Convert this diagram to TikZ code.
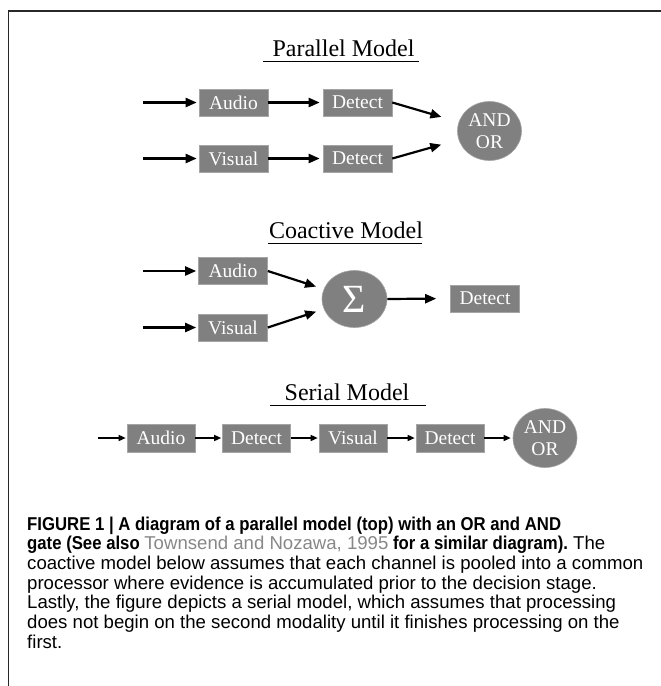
\documentclass[tikz,border=0pt]{standalone}
\usepackage{fontspec}
\setmainfont{Liberation Serif}
\newfontfamily\capreg[FakeStretch=1.0]{Liberation Sans}
\newfontfamily\capbold[FakeStretch=0.90]{Liberation Sans Bold}
\usetikzlibrary{shapes.geometric,arrows.meta}
\definecolor{boxgray}{RGB}{128,128,128}
\definecolor{boxedge}{RGB}{165,165,165}
\definecolor{linkgray}{RGB}{135,135,135}
\definecolor{framecol}{RGB}{40,40,40}
\tikzset{
  procbox/.style={rectangle, fill=boxgray, draw=boxedge, line width=0.6pt,
    minimum width=69pt, minimum height=27pt, inner sep=0pt, text=white,
    font=\fontsize{19.5}{20}\selectfont},
  sbox/.style={procbox, minimum width=68pt, minimum height=28pt},
  gate/.style={ellipse, fill=boxgray, draw=boxedge, line width=0.6pt,
    minimum width=64pt, minimum height=59pt, inner sep=0pt, text=white,
    align=center, font=\fontsize{19.5}{21.5}\selectfont},
  arr/.style={line width=2.2pt, -{Triangle[length=11pt,width=9pt]}},
  sarr/.style={line width=1.4pt, -{Triangle[length=7pt,width=6pt]}},
  ttl/.style={anchor=base, inner sep=0pt, font=\fontsize{24}{26}\selectfont},
  uline/.style={line width=1pt},
  capline/.style={anchor=base west, inner sep=0pt, font=\fontsize{18.6}{20}\selectfont},
}
\begin{document}
\begin{tikzpicture}[x=1pt,y=-1pt]
\useasboundingbox (0,0) rectangle (661,686);
% frame
\draw[framecol, line width=1.5pt] (8.5,686) -- (8.5,11) -- (661,11);

% ---------------- Parallel model
\node[ttl] (tp) at (343.5,56) {Parallel Model};
\coordinate (tpl) at (263,61);
\coordinate (tpr) at (419,61);
\draw[uline] (tpl) -- (tpr);

\coordinate (pin1) at (143,102.5);
\coordinate (pin2) at (143,158.5);
\node[procbox] (pa) at (233.5,102.5) {Audio};
\node[procbox] (pd1) at (357.5,102.5) {Detect};
\node[procbox] (pv) at (233.5,158.5) {Visual};
\node[procbox] (pd2) at (357.5,158.5) {Detect};
\node[gate] (pg) at (489.5,131) {AND\\OR};
\draw[arr, shorten >=2pt] (pin1) -- (pa.west);
\draw[arr, shorten >=2pt] (pin2) -- (pv.west);
\draw[arr, shorten >=3pt] (pa.east) -- (pd1.west);
\draw[arr, shorten >=3pt] (pv.east) -- (pd2.west);
\draw[arr, shorten >=18pt] (pd1.east) -- (pg);
\draw[arr, shorten >=18pt] (pd2.east) -- (pg);

% ---------------- Coactive model
\node[ttl] (tc) at (346,238.5) {Coactive Model};
\coordinate (tcl) at (268,243);
\coordinate (tcr) at (422,243);
\draw[uline] (tcl) -- (tcr);

\coordinate (cin1) at (143,271);
\coordinate (cin2) at (143,327.5);
\node[procbox] (ca) at (233,271) {Audio};
\node[procbox] (cv) at (233,327.5) {Visual};
\node[gate, minimum width=65pt, minimum height=57pt,
      font=\fontsize{40}{40}\selectfont] (cs) at (354.5,299) {Σ};
\node[procbox] (cd) at (485,298.5) {Detect};
\draw[arr, shorten >=2pt] (cin1) -- (ca.west);
\draw[arr, shorten >=2pt] (cin2) -- (cv.west);
\draw[arr, shorten >=8pt] (ca.east) -- (cs);
\draw[arr, shorten >=8pt] (cv.east) -- (cs);
\draw[arr, shorten >=14pt] (cs.east) -- (cd.west);

% ---------------- Serial model
\node[ttl] (ts) at (347,400.5) {Serial Model};
\coordinate (tsl) at (270,405);
\coordinate (tsr) at (426,405);
\draw[uline] (tsl) -- (tsr);

\coordinate (sin) at (98,438);
\node[sbox] (sa) at (161,438) {Audio};
\node[sbox] (sd1) at (256.5,438) {Detect};
\node[sbox] (sv) at (353,438) {Visual};
\node[sbox] (sd2) at (450,438) {Detect};
\node[gate] (sg) at (545,438) {AND\\OR};
\draw[sarr, shorten >=1pt] (sin) -- (sa.west);
\draw[sarr, shorten >=1pt] (sa.east) -- (sd1.west);
\draw[sarr, shorten >=1pt] (sd1.east) -- (sv.west);
\draw[sarr, shorten >=1pt] (sv.east) -- (sd2.west);
\draw[sarr, shorten >=2pt] (sd2.east) -- (sg.west);

% ---------------- Caption
\node[capline] (cap1) at (27,530) {\capbold FIGURE 1 | A diagram of a parallel model (top) with an OR and AND};
\node[capline] (cap2) at (27,549.7) {\capbold gate (See also\ {\capreg\color{linkgray}Townsend and Nozawa, 1995} for a similar diagram).\capreg\ The};
\node[capline] (cap3) at (27,569.4) {\capreg coactive model below assumes that each channel is pooled into a common};
\node[capline] (cap4) at (27,589.1) {\capreg processor where evidence is accumulated prior to the decision stage.};
\node[capline] (cap5) at (27,608.8) {\capreg Lastly, the figure depicts a serial model, which assumes that processing};
\node[capline] (cap6) at (27,628.5) {\capreg does not begin on the second modality until it finishes processing on the};
\node[capline] (cap7) at (27,648.2) {\capreg first.};
\end{tikzpicture}
\end{document}
